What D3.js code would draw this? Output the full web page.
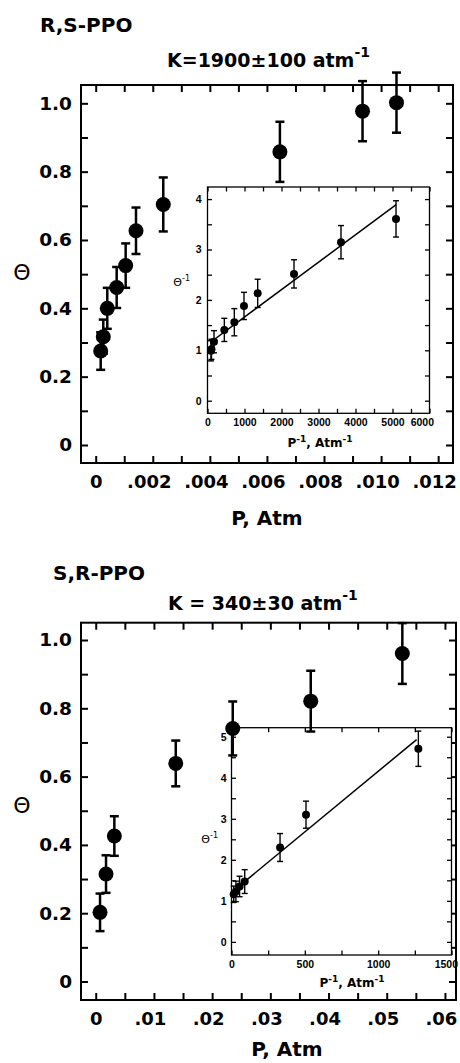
<!DOCTYPE html>
<html><head><meta charset="utf-8">
<script src="https://cdn.jsdelivr.net/npm/d3@7"></script>
<style>body{margin:0;background:#fff}svg{display:block}</style>
</head><body>
<svg id="c" width="460" height="1063"></svg>
<script>
// ---------- DATA: R,S-PPO ----------
const rsP        = [0.000175, 0.000266, 0.000406, 0.000735, 0.00105, 0.001412, 0.002368, 0.006455, 0.00935, 0.01054];
const rsTheta    = [0.275, 0.317, 0.400, 0.461, 0.525, 0.627, 0.704, 0.858, 0.977, 1.002];
const rsThetaErr = [0.055, 0.050, 0.060, 0.060, 0.065, 0.068, 0.079, 0.088, 0.088, 0.088];
const rsInvP     = [95, 107, 176, 455, 725, 986, 1356, 2338, 3608, 5095];
const rsInvTheta = [0.99, 1.02, 1.17, 1.405, 1.557, 1.88, 2.13, 2.516, 3.145, 3.607];
const rsInvErr   = [0.20, 0.20, 0.22, 0.23, 0.27, 0.27, 0.28, 0.28, 0.33, 0.36];
const rsFitX     = [100, 5100];
const rsFitY     = [1.17, 3.89];

// ---------- DATA: S,R-PPO ----------
const srP        = [0.00074, 0.00177, 0.0032, 0.01375, 0.02354, 0.03694, 0.05268];
const srTheta    = [0.2025, 0.3146, 0.426, 0.6386, 0.741, 0.821, 0.9605];
const srThetaErr = [0.055, 0.055, 0.058, 0.067, 0.079, 0.089, 0.089];
const srInvP     = [15, 30, 55, 90, 331, 508, 1274];
const srInvTheta = [1.16, 1.23, 1.35, 1.47, 2.30, 3.10, 4.707];
const srInvErr   = [0.20, 0.25, 0.25, 0.29, 0.34, 0.33, 0.43];
const srFitX     = [90, 1262];
const srFitY     = [1.47, 4.93];

// ---------- TICK LABELS ----------
const thetaTickVals = [0, 0.2, 0.4, 0.6, 0.8, 1.0];
const thetaTickLabels = ["0", "0.2", "0.4", "0.6", "0.8", "1.0"];
const rsXTickVals = [0, 0.002, 0.004, 0.006, 0.008, 0.010, 0.012];
const rsXTickLabels = ["0", ".002", ".004", ".006", ".008", ".010", ".012"];
const srXTickVals = [0, 0.01, 0.02, 0.03, 0.04, 0.05, 0.06];
const srXTickLabels = ["0", ".01", ".02", ".03", ".04", ".05", ".06"];
const rsInsetXVals = [0, 1000, 2000, 3000, 4000, 5000, 6000];
const rsInsetXLabels = ["0", "1000", "2000", "3000", "4000", "5000", "6000"];
const rsInsetYVals = [0, 1, 2, 3, 4];
const rsInsetYLabels = ["0", "1", "2", "3", "4"];
const srInsetXVals = [0, 500, 1000, 1500];
const srInsetXLabels = ["0", "500", "1000", "1500"];
const srInsetYVals = [0, 1, 2, 3, 4, 5];
const srInsetYLabels = ["0", "1", "2", "3", "4", "5"];

const svg = d3.select("#c");
const MAINFONT = "'DejaVu Sans', sans-serif";
const INSFONT = "'Liberation Sans', Arial, sans-serif";

function cleanAxis(sel, sw) {
  sel.select(".domain").remove();
  sel.selectAll("line").attr("stroke", "#000").attr("stroke-width", sw);
}

function drawAxes(g, x, y, c) {
  const [xa, xb] = x.range(), [yb, ya] = y.range();
  if (c.fill) g.append("rect").attr("x", xa).attr("y", ya).attr("width", xb - xa).attr("height", yb - ya).attr("fill", c.fill);
  g.append("g").attr("transform", `translate(0,${yb})`)
    .call(d3.axisBottom(x).tickValues(c.xMinor).tickSize(-c.tl).tickSizeOuter(0).tickFormat("")).call(cleanAxis, c.sw);
  g.append("g").attr("transform", `translate(0,${ya})`)
    .call(d3.axisTop(x).tickValues(c.xMinor).tickSize(-c.tl).tickSizeOuter(0).tickFormat("")).call(cleanAxis, c.sw);
  g.append("g").attr("transform", `translate(${xa},0)`)
    .call(d3.axisLeft(y).tickValues(c.yMinor).tickSize(-c.tl).tickSizeOuter(0).tickFormat("")).call(cleanAxis, c.sw);
  g.append("g").attr("transform", `translate(${xb},0)`)
    .call(d3.axisRight(y).tickValues(c.yMinor).tickSize(-c.tl).tickSizeOuter(0).tickFormat("")).call(cleanAxis, c.sw);
  g.append("rect").attr("x", xa).attr("y", ya).attr("width", xb - xa).attr("height", yb - ya)
    .attr("fill", "none").attr("stroke", "#000").attr("stroke-width", c.sw);

  const bx = g.append("g").attr("transform", `translate(0,${yb})`)
    .call(d3.axisBottom(x).tickValues(c.xVals).tickSize(0).tickPadding(c.padX).tickFormat((d, i) => c.xLabels[i]));
  bx.select(".domain").remove();
  bx.attr("font-family", c.font).attr("font-size", c.xfs || c.fs).attr("font-weight", "bold");
  bx.selectAll("text").attr("fill", "#000");
  if (c.periodShift) {
    bx.selectAll("text").filter(function () { return this.textContent.startsWith("."); }).attr("x", c.periodShift);
  }
  if (c.lastShift) {
    bx.selectAll(".tick:last-of-type text").attr("text-anchor", "end").attr("x", c.lastShift);
  }
  const ly = g.append("g").attr("transform", `translate(${xa},0)`)
    .call(d3.axisLeft(y).tickValues(c.yVals).tickSize(0).tickPadding(c.padY).tickFormat((d, i) => c.yLabels[i]));
  ly.select(".domain").remove();
  ly.attr("font-family", c.font).attr("font-size", c.fs).attr("font-weight", "bold");
  ly.selectAll("text").attr("fill", "#000");
}

function drawPoints(g, x, y, xs, ys, es, c) {
  const grp = g.append("g");
  xs.forEach((v, i) => {
    const px = x(v), yt = y(ys[i] + es[i]), ybm = y(ys[i] - es[i]);
    grp.append("line").attr("x1", px).attr("x2", px).attr("y1", yt).attr("y2", ybm)
      .attr("stroke", "#000").attr("stroke-width", c.ew);
    [yt, ybm].forEach(yy => grp.append("line").attr("x1", px - c.cap).attr("x2", px + c.cap)
      .attr("y1", yy).attr("y2", yy).attr("stroke", "#000").attr("stroke-width", c.ew));
  });
  grp.selectAll("circle.pt").data(xs).enter().append("circle")
    .attr("cx", d => x(d)).attr("cy", (d, i) => y(ys[i])).attr("r", c.r).attr("fill", "#000");
}

function drawFit(g, x, y, fx, fy) {
  const pts = fx.map((v, i) => [v, fy[i]]);
  g.append("path").attr("d", d3.line().x(d => x(d[0])).y(d => y(d[1]))(pts))
    .attr("fill", "none").attr("stroke", "#000").attr("stroke-width", 1.5);
}

function supText(g, xPos, yPos, parts, opts) {
  const t = g.append("text").attr("x", xPos).attr("y", yPos)
    .attr("font-family", opts.font).attr("font-size", opts.fs).attr("font-weight", opts.weight || "bold")
    .attr("text-anchor", opts.anchor || "start").attr("fill", "#000");
  let raised = false;
  parts.forEach(p => {
    const ts = t.append("tspan").text(p.t);
    if (p.sup && !raised) { ts.attr("dy", -opts.rise).attr("font-size", opts.sfs); raised = true; }
    else if (!p.sup && raised) { ts.attr("dy", opts.rise); raised = false; }
    else if (p.sup) ts.attr("font-size", opts.sfs);
  });
  return t;
}

function panel(cfg) {
  const g = svg.append("g");
  const x = d3.scaleLinear().domain(cfg.xDom).range(cfg.xRange);
  const y = d3.scaleLinear().domain(cfg.yDom).range(cfg.yRange);
  drawAxes(g, x, y, {
    xMinor: cfg.xMinor, yMinor: d3.range(0, 1.0001, 0.1), tl: 7, sw: 2,
    xVals: cfg.xVals, xLabels: cfg.xLabels, yVals: thetaTickVals, yLabels: thetaTickLabels,
    font: MAINFONT, fs: 18.5, xfs: 18, padX: 12, padY: 9, periodShift: -4
  });
  // inset
  const ix = d3.scaleLinear().domain(cfg.ixDom).range(cfg.ixRange);
  const iy = d3.scaleLinear().domain(cfg.iyDom).range(cfg.iyRange);
  drawAxes(g, ix, iy, {
    fill: "#fff", xMinor: cfg.ixMinor, yMinor: cfg.iyMinor, tl: 4.5, sw: 1.3,
    xVals: cfg.ixVals, xLabels: cfg.ixLabels, yVals: cfg.iyVals, yLabels: cfg.iyLabels,
    font: INSFONT, fs: 10.5, padX: 5.5, padY: cfg.iPadY, lastShift: cfg.lastShift
  });
  drawFit(g, ix, iy, cfg.fitX, cfg.fitY);
  drawPoints(g, ix, iy, cfg.iX, cfg.iY, cfg.iE, { r: 4, cap: 3, ew: 1.4 });
  // inset labels
  supText(g, cfg.iYLabPos[0], cfg.iYLabPos[1], [{ t: "\u0398" }, { t: "-1", sup: true }],
    { font: MAINFONT, fs: 11, sfs: 8, rise: 5, weight: "normal", anchor: "end" });
  supText(g, cfg.iXLabPos[0], cfg.iXLabPos[1], [{ t: "P" }, { t: "-1", sup: true }, { t: ", Atm" }, { t: "-1", sup: true }],
    { font: MAINFONT, fs: 12, sfs: 9, rise: 5, anchor: "middle" });
  // main points on top
  drawPoints(g, x, y, cfg.mX, cfg.mY, cfg.mE, { r: 7.5, cap: 4.5, ew: 2.5 });
  // titles
  g.append("text").attr("x", cfg.namePos[0]).attr("y", cfg.namePos[1]).text(cfg.name)
    .attr("font-family", MAINFONT).attr("font-size", 20).attr("font-weight", "bold");
  supText(g, cfg.kPos[0], cfg.kPos[1], [{ t: cfg.kText }, { t: "-1", sup: true }],
    { font: MAINFONT, fs: 19, sfs: 14, rise: 10 });
  g.append("text").attr("x", cfg.pPos[0]).attr("y", cfg.pPos[1]).text("P, Atm")
    .attr("font-family", MAINFONT).attr("font-size", 20).attr("font-weight", "bold").attr("text-anchor", "middle");
  g.append("text").attr("x", 22).attr("y", cfg.thetaY).text("\u0398")
    .attr("font-family", MAINFONT).attr("font-size", 22).attr("text-anchor", "middle").attr("dy", "0.36em");
}

panel({
  xDom: [-0.000515, 0.01252], xRange: [81, 453], yDom: [-0.0527, 1.0536], yRange: [463, 85],
  xMinor: d3.range(0, 0.01201, 0.001), xVals: rsXTickVals, xLabels: rsXTickLabels,
  ixDom: [0, 6000], ixRange: [207.5, 429.5], iyDom: [-0.25, 4.24], iyRange: [413.3, 187],
  ixMinor: d3.range(0, 6001, 500), iyMinor: d3.range(0, 4.01, 0.5),
  ixVals: rsInsetXVals, ixLabels: rsInsetXLabels, iyVals: rsInsetYVals, iyLabels: rsInsetYLabels,
  iPadY: 6, lastShift: 4,
  fitX: rsFitX, fitY: rsFitY, iX: rsInvP, iY: rsInvTheta, iE: rsInvErr,
  mX: rsP, mY: rsTheta, mE: rsThetaErr,
  iYLabPos: [190, 286], iXLabPos: [320, 447],
  name: "R,S-PPO", namePos: [40, 32], kText: "K=1900\u00b1100 atm", kPos: [167, 67],
  pPos: [267, 525], thetaY: 272
});

panel({
  xDom: [-0.00253, 0.0619], xRange: [81, 456], yDom: [-0.0542, 1.0507], yRange: [1000, 622.7],
  xMinor: d3.range(0, 0.0601, 0.005), xVals: srXTickVals, xLabels: srXTickLabels,
  ixDom: [0, 1500], ixRange: [231.5, 451.5], iyDom: [-0.32, 5.22], iyRange: [955, 727.7],
  ixMinor: d3.range(0, 1501, 250), iyMinor: d3.range(0, 5.01, 0.5),
  ixVals: srInsetXVals, ixLabels: srInsetXLabels, iyVals: srInsetYVals, iyLabels: srInsetYLabels,
  iPadY: 5, lastShift: 6,
  fitX: srFitX, fitY: srFitY, iX: srInvP, iY: srInvTheta, iE: srInvErr,
  mX: srP, mY: srTheta, mE: srThetaErr,
  iYLabPos: [218, 843], iXLabPos: [352, 987],
  name: "S,R-PPO", namePos: [53, 580], kText: "K = 340\u00b130 atm", kPos: [168, 610],
  pPos: [287, 1056], thetaY: 805
});
</script>
</body></html>
